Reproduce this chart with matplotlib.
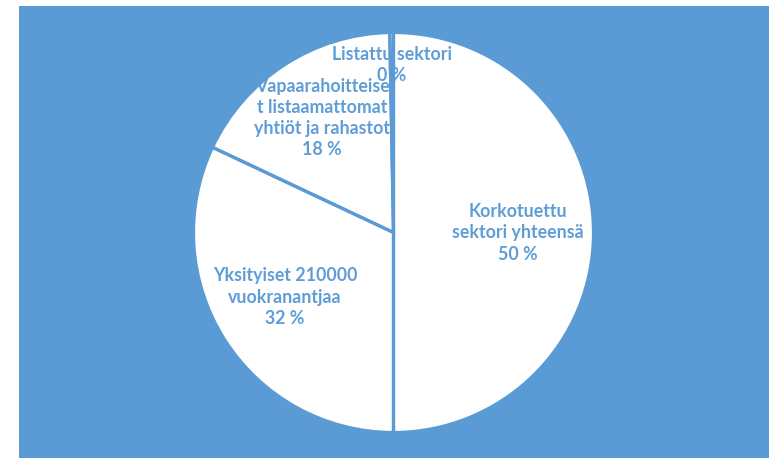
import matplotlib
matplotlib.use("Agg")
import matplotlib.pyplot as plt
from matplotlib.patches import Rectangle

# data
labels = ["Korkotuettu\nsektori yhteensä\n50 %",
          "Yksityiset 210000\nvuokranantjaa\n32 %",
          "Vapaarahoitteise\nt listaamattomat\nyhtiöt ja rahastot\n18 %",
          "Listattu sektori\n0 %"]
shares = [50.0, 32.0, 17.7, 0.3]

# label centres in pixels (layout only)
label_px = [(518, 233), (285, 297), (322, 118), (392, 65)]

BLUE = "#5b9bd5"
TEXT_BLUE = "#5f9dd6"
W, H = 769, 458
cx, cy, r = 393.5, 232.5, 200

fig = plt.figure(figsize=(W / 100, H / 100), dpi=100)
fig.patches.append(Rectangle((19 / W, 0), 1 - 19 / W, 1 - 6 / H,
                             transform=fig.transFigure, facecolor=BLUE,
                             edgecolor="none", zorder=-1))

ax = fig.add_axes([(cx - r) / W, (H - cy - r) / H, 2 * r / W, 2 * r / H])
ax.axis("off")
ax.patch.set_visible(False)

# white slices, then labels, then separating lines on top
wedges, _ = ax.pie(shares, startangle=90, counterclock=False, radius=1,
                   colors=["white"] * len(shares),
                   wedgeprops=dict(linewidth=0, zorder=1))
for (px, py), txt in zip(label_px, labels):
    ax.text((px - cx) / r, (cy - py) / r, txt, ha="center", va="center",
            fontsize=12.8, fontweight="bold", color=TEXT_BLUE,
            family=["Lato", "DejaVu Sans"], linespacing=1.3, zorder=2)
edges, _ = ax.pie(shares, startangle=90, counterclock=False, radius=1,
                  colors=["none"] * len(shares),
                  wedgeprops=dict(linewidth=2.3, edgecolor=BLUE, zorder=3))
ax.set_xlim(-1, 1)
ax.set_ylim(-1, 1)

fig.savefig("out.png", dpi=100)
